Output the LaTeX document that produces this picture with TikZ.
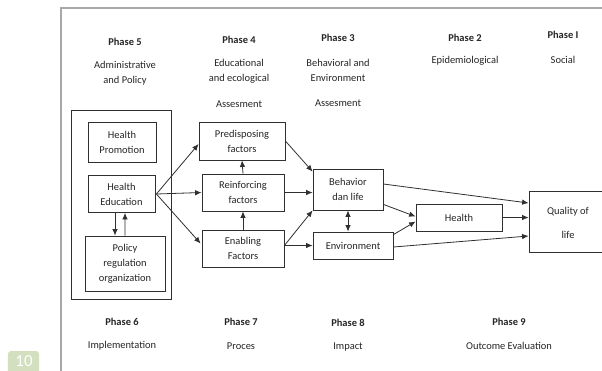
\documentclass[tikz,border=0pt]{standalone}
\usepackage{fontspec}
\setmainfont{Carlito}
\usetikzlibrary{arrows.meta,calc}
\definecolor{framegray}{HTML}{A8A8A8}
\definecolor{badgegreen}{HTML}{D3DFBF}
\definecolor{boxline}{HTML}{303030}
\definecolor{txt}{HTML}{262626}
\tikzset{
  lbl/.style={font=\fontsize{10.5}{15}\selectfont, text=txt, align=center, inner sep=0pt},
  phaselbl/.style={lbl, font=\fontsize{10.5}{15}\selectfont\bfseries},
  boxnode/.style={draw=boxline, line width=0.8bp, align=center, inner sep=0pt,
    font=\fontsize{10.5}{15}\selectfont, text=txt},
  arr/.style={draw=boxline, line width=0.8bp, -{Latex[length=6.5bp,width=5.5bp]}},
  darr/.style={draw=boxline, line width=0.8bp, {Latex[length=6.5bp,width=5.5bp]}-{Latex[length=6.5bp,width=5.5bp]}}
}
\begin{document}
\begin{tikzpicture}[x=1bp,y=-1bp]
\useasboundingbox (0,0) rectangle (602,370);
\clip (0,0) rectangle (602,370);
\fill[white] (0,0) rectangle (602,370);
% outer frame
\draw[framegray, line width=2bp] (61,375) -- (61,8) -- (610,8);
% badge
\node[fill=badgegreen, rounded corners=3bp, minimum width=31bp, minimum height=30bp, inner sep=0pt] (badge) at (23.5,366) {};
\node[text=white, font=\fontsize{17}{17}\selectfont, inner sep=0pt] (badgetxt) at (24,361) {10};

% top phase labels
\node[phaselbl] (p5) at (125,42) {Phase 5};
\node[lbl] (p5t) at (125,73.5) {Administrative\\and Policy};
\node[phaselbl] (p4) at (239,40) {Phase 4};
\node[lbl] (p4t) at (239,71) {Educational\\and ecological};
\node[lbl] (p4a) at (239,104) {Assesment};
\node[phaselbl] (p3) at (338,38) {Phase 3};
\node[lbl] (p3t) at (338,70) {Behavioral and\\Environment};
\node[lbl] (p3a) at (338,103) {Assesment};
\node[phaselbl] (p2) at (465,38) {Phase 2};
\node[lbl] (p2t) at (465,61) {Epidemiological};
\node[phaselbl] (p1) at (563,35) {Phase I};
\node[lbl] (p1t) at (563,60) {Social};

% bottom phase labels
\node[phaselbl] (p6) at (122,322) {Phase 6};
\node[lbl] (p6t) at (122,346) {Implementation};
\node[phaselbl] (p7) at (241,322) {Phase 7};
\node[lbl] (p7t) at (241,346) {Proces};
\node[phaselbl] (p8) at (348,323) {Phase 8};
\node[lbl] (p8t) at (348,347) {Impact};
\node[phaselbl] (p9) at (509,322) {Phase 9};
\node[lbl] (p9t) at (509,346) {Outcome Evaluation};

% boxes
\node[boxnode, minimum width=100bp, minimum height=189bp] (outer) at (121,204.5) {};
\node[boxnode, minimum width=68bp, minimum height=40bp] (hp) at (122,142) {Health\\Promotion};
\node[boxnode, minimum width=67bp, minimum height=37bp] (he) at (121.5,194) {Health\\Education};
\node[boxnode, minimum width=80bp, minimum height=55bp] (pol) at (125,263.5) {Policy\\regulation\\organization};
\node[boxnode, minimum width=86bp, minimum height=38bp] (pre) at (242,141) {Predisposing\\factors};
\node[boxnode, minimum width=82bp, minimum height=37bp] (rei) at (243,192.5) {Reinforcing\\factors};
\node[boxnode, minimum width=82bp, minimum height=37bp] (ena) at (243,248.5) {Enabling\\Factors};
\node[boxnode, minimum width=70bp, minimum height=41bp] (beh) at (348,189.5) {Behavior\\dan life};
\node[boxnode, minimum width=80bp, minimum height=27bp] (env) at (353,245.5) {Environment};
\node[boxnode, minimum width=86bp, minimum height=27bp] (hea) at (459,217.5) {Health};
\node[boxnode, minimum width=90bp, minimum height=61bp] (qol) at (574,221.5) {};
\node[lbl, font=\fontsize{10.5}{24}\selectfont] (qolt) at (568,223) {Quality of\\life};

% connectors
\draw[arr] ($(he.south)+(-6.5,0)$) -- ($(pol.north)+(-10,0)$);
\draw[arr] ($(pol.north)+(0,0)$) -- ($(he.south)+(3.5,0)$);
\draw[arr] ($(he.east)+(1,0)$) -- ($(pre.west)+(0,3)$);
\draw[arr] ($(he.east)+(1,0)$) -- (rei.west);
\draw[arr] ($(he.east)+(1,0)$) -- ($(ena.west)+(-1,-5)$);
\draw[arr] (ena.north) -- (rei.south);
\draw[arr] (rei.north) -- (pre.south);
\draw[arr] (pre.east) -- ($(beh.north west)+(0,3)$);
\draw[arr] (rei.east) -- (rei.east -| beh.west);
\draw[arr] ($(ena.east)+(0,-3)$) -- (beh.south west);
\draw[arr] ($(ena.east)+(0,-3)$) -- ($(ena.east -| env.west)+(0,-3)$);
\draw[darr] (beh.south) -- (beh.south |- env.north);
\draw[arr] ($(beh.east)+(0,-5.5)$) -- ($(qol.west)+(0,-18.5)$);
\draw[arr] ($(beh.south east)+(0,-6)$) -- ($(hea.west)+(0,-1)$);
\draw[arr] ($(env.north east)+(0,3)$) -- ($(hea.west)+(0,4)$);
\draw[arr] (hea.east) -- (hea.east -| qol.west);
\draw[arr] ($(env.east)+(0,1.5)$) -- ($(qol.west)+(0,14.5)$);
\end{tikzpicture}
\end{document}
